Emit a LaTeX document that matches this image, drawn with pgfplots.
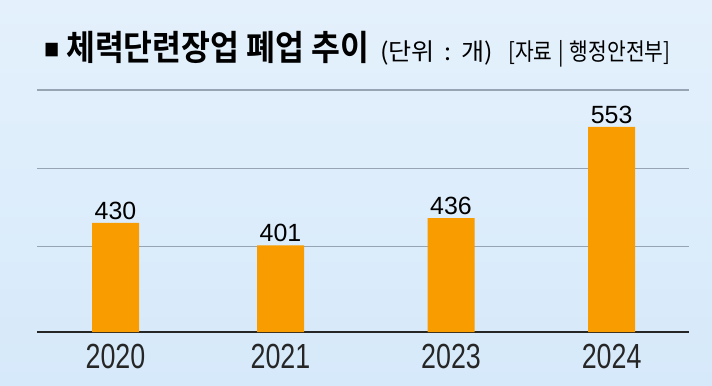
\documentclass[border=0pt]{standalone}
\usepackage{pgfplots}
\pgfplotsset{compat=1.18}
\usepackage{fontspec}
\setmainfont{Liberation Sans}
\newfontfamily\krb[FakeStretch=0.9]{Noto Sans CJK KR Bold}
\newfontfamily\krr[FakeStretch=0.85]{Noto Sans CJK KR}
\newfontfamily\krw[FakeStretch=1.05]{Noto Sans CJK KR}
\newfontfamily\cond[FakeStretch=0.77]{Liberation Sans}
\definecolor{bgtop}{RGB}{228,241,252}
\definecolor{bgbot}{RGB}{214,233,250}
\definecolor{barorange}{RGB}{248,156,0}
\definecolor{gridgray}{RGB}{150,164,180}
\begin{document}
\begin{tikzpicture}[x=1bp,y=1bp]
\shade[top color=bgtop, bottom color=bgbot] (0,0) rectangle (712,385);
\useasboundingbox (0,0) rectangle (712,385);
\node[anchor=base west, inner sep=0] at (44,329) {\krb\fontsize{17}{17}\selectfont ■};
\node[anchor=base west, inner sep=0] at (66,325) {\krb\fontsize{35}{35}\selectfont 체력단련장업 폐업 추이};
\node[anchor=base west, inner sep=0] at (380,325) {\krw\fontsize{24}{24}\selectfont (단위\hspace{10bp}:\hspace{10bp}개)};
\node[anchor=base west, inner sep=0] at (508,325) {\krr\fontsize{24}{24}\selectfont [자료\hspace{6bp}|\hspace{6bp}행정안전부]};
\begin{axis}[
  at={(37bp,53bp)}, anchor=south west,
  scale only axis, width=652bp, height=252bp,
  xmin=37, xmax=689, ymin=290, ymax=613,
  axis lines*=left,
  y axis line style={draw=none},
  x axis line style={line width=1.6bp, color=black!85},
  xtick={115.5,280.5,451,611.6},
  xticklabels={2020,2021,2023,2024},
  xticklabel style={font=\cond\fontsize{35}{35}\selectfont, color=black!85, yshift=-9bp},
  xtick style={draw=none},
  ytick={400,500,600},
  yticklabels={},
  ytick style={draw=none},
  ymajorgrids,
  grid style={color=gridgray, line width=1.3bp},
  clip=false,
  /pgf/number format/assume math mode=true,
]
\addplot[ybar, bar width=47bp, fill=barorange, draw=none,
  nodes near coords,
  nodes near coords style={font=\fontsize{25}{25}\selectfont, color=black, inner sep=3bp}]
  coordinates {(115.5,430) (280.5,401) (451,436) (611.6,553)};
\end{axis}
\end{tikzpicture}
\end{document}
